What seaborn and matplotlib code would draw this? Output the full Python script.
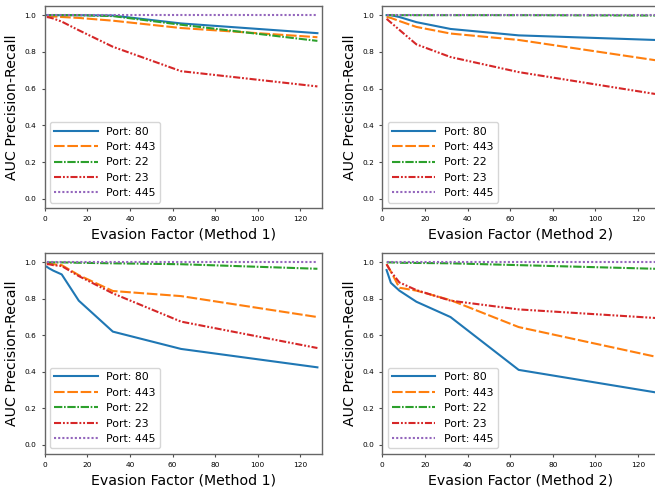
import numpy as np
import pandas as pd
import seaborn as sns
import matplotlib
matplotlib.use("Agg")
import matplotlib.pyplot as plt

# evasion factors
x_m1 = [1, 2, 4, 8, 16, 32, 64, 128]
x_m2 = [2, 4, 8, 16, 32, 64, 128]

ports = ["80", "443", "22", "23", "445"]

# top-left: method 1
top_m1 = {
    "80":  [1.0, 1.0, 1.0, 1.0, 1.0, 0.998, 0.955, 0.902],
    "443": [0.995, 0.995, 0.993, 0.99, 0.985, 0.97, 0.93, 0.88],
    "22":  [1.0, 1.0, 1.0, 1.0, 1.0, 0.995, 0.948, 0.86],
    "23":  [0.99, 0.988, 0.982, 0.965, 0.918, 0.828, 0.695, 0.612],
    "445": [1.0, 1.0, 1.0, 1.0, 1.0, 1.0, 1.0, 1.0],
}
# top-right: method 2
top_m2 = {
    "80":  [1.0, 1.0, 0.99, 0.962, 0.925, 0.89, 0.865],
    "443": [0.99, 0.985, 0.968, 0.936, 0.90, 0.865, 0.755],
    "22":  [1.0, 1.0, 1.0, 1.0, 1.0, 1.0, 0.998],
    "23":  [0.98, 0.96, 0.92, 0.841, 0.772, 0.69, 0.571],
    "445": [1.0, 1.0, 1.0, 1.0, 1.0, 1.0, 1.0],
}
# bottom-left: method 1
bot_m1 = {
    "80":  [0.976, 0.968, 0.955, 0.934, 0.79, 0.62, 0.525, 0.424],
    "443": [1.0, 0.995, 0.99, 0.985, 0.93, 0.843, 0.815, 0.70],
    "22":  [1.0, 1.0, 1.0, 1.0, 0.998, 0.995, 0.99, 0.965],
    "23":  [0.99, 0.99, 0.985, 0.98, 0.925, 0.83, 0.675, 0.53],
    "445": [1.0, 1.0, 1.0, 1.0, 1.0, 1.0, 1.0, 1.0],
}
# bottom-right: method 2
bot_m2 = {
    "80":  [0.958, 0.888, 0.845, 0.784, 0.70, 0.41, 0.287],
    "443": [0.99, 0.95, 0.861, 0.845, 0.793, 0.645, 0.483],
    "22":  [1.0, 1.0, 0.998, 0.997, 0.995, 0.985, 0.965],
    "23":  [0.99, 0.95, 0.89, 0.848, 0.79, 0.742, 0.695],
    "445": [1.0, 1.0, 1.0, 1.0, 1.0, 1.0, 1.0],
}

colors = ["#1f77b4", "#ff7f0e", "#2ca02c", "#d62728", "#9467bd"]
dashes = ["", (5.1, 1.3), (4.0, 0.8, 0.8, 0.8),
          (3.4, 0.9, 0.9, 0.9, 0.9, 0.9), (1.0, 1.0)]


def to_frame(xs, series):
    rows = []
    for p in ports:
        for xv, yv in zip(xs, series[p]):
            rows.append({"x": xv, "auc": yv, "port": "Port: " + p})
    return pd.DataFrame(rows)


def draw(ax, xs, series, method):
    df = to_frame(xs, series)
    labels = ["Port: " + p for p in ports]
    sns.lineplot(data=df, x="x", y="auc", hue="port", style="port",
                 hue_order=labels, style_order=labels,
                 palette=dict(zip(labels, colors)),
                 dashes=dict(zip(labels, dashes)),
                 linewidth=1.5, ax=ax)
    ax.set_xlim(0, 130)
    ax.set_ylim(-0.05, 1.05)
    ax.set_xticks(np.arange(0, 121, 20))
    ax.set_yticks(np.arange(0, 1.01, 0.2))
    ax.set_xlabel("Evasion Factor (Method %d)" % method, fontsize=10.2)
    ax.set_ylabel("AUC Precision-Recall", fontsize=10.2)
    ax.tick_params(labelsize=5.3, length=2.5, width=0.8, color="0.3")
    for s in ax.spines.values():
        s.set_color("0.4")
        s.set_linewidth(1.0)
    h, l = ax.get_legend_handles_labels()
    ax.legend(h, l, loc="lower left", fontsize=7.8, handlelength=4)


fig = plt.figure(figsize=(6.55, 4.87), dpi=100)
ax1 = fig.add_axes([0.0682, 0.5729, 0.4229, 0.4148])
ax2 = fig.add_axes([0.5837, 0.5729, 0.4229, 0.4148])
ax3 = fig.add_axes([0.0682, 0.0684, 0.4229, 0.4115])
ax4 = fig.add_axes([0.5837, 0.0684, 0.4229, 0.4115])

draw(ax1, x_m1, top_m1, 1)
draw(ax2, x_m2, top_m2, 2)
draw(ax3, x_m1, bot_m1, 1)
draw(ax4, x_m2, bot_m2, 2)

fig.savefig("out.png", dpi=100)
plt.close(fig)
